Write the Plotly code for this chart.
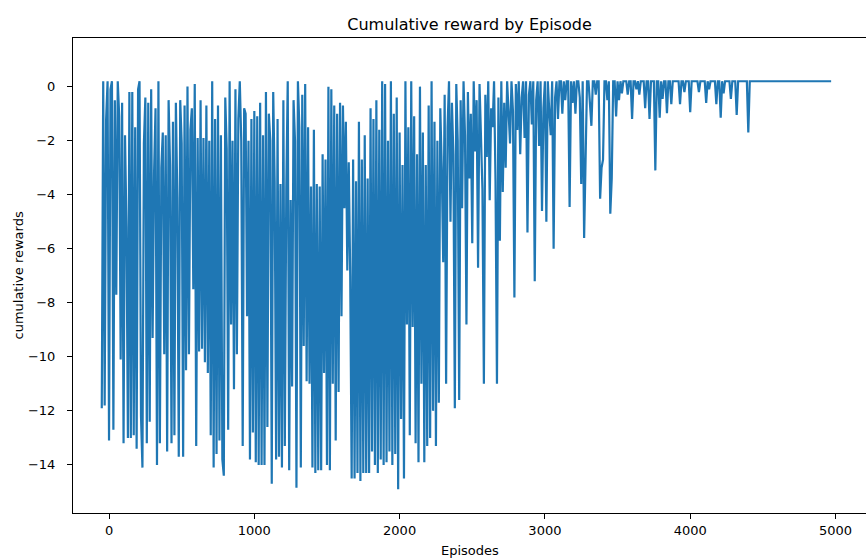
import plotly.graph_objects as go

# Episode index of the first sample and spacing between samples
first_episode = -50
episode_step = 10

rewards = [
    # -50 .. 40
    -11.9, 0.2, -11.8, -1.2, 0.2, -13.1, -0.1, 0.2, -12.7, -0.5,
    # 50 .. 140
    -7.7, 0.2, -1.1, -10.1, -0.6, -13.2, -1.8, -5.2, -13.0, -0.2,
    # 150 .. 240
    -13.0, -0.2, -12.9, -1.5, -13.4, -0.1, 0.2, -12.2, -14.1, -2.1,
    # 250 .. 340
    -0.4, -13.2, -0.6, -12.4, -0.1, -9.3, -3.2, -0.8, -14.0, 0.2,
    # 350 .. 440
    -13.2, -3.0, -1.7, -9.9, -1.8, -13.5, -0.5, -2.9, -13.2, -1.3,
    # 450 .. 540
    -12.9, -0.6, -4.1, -13.7, -0.5, -2.1, -13.7, -0.7, -10.5, 0.0,
    # 550 .. 640
    -9.9, -1.6, -0.8, -7.5, 0.1, -13.3, -1.9, -9.8, -0.5, -9.7,
    # 650 .. 740
    -1.9, -10.2, -0.7, -10.6, -2.0, -12.9, 0.2, -14.1, -1.2, -13.6,
    # 750 .. 840
    -0.7, -13.1, -1.8, -13.8, -14.4, -0.4, -2.3, -12.7, 0.2, -8.8,
    # 850 .. 940
    -2.0, -11.2, -0.1, -9.9, -1.2, 0.2, -2.0, -13.3, -0.8, -1.0,
    # 950 .. 1040
    -8.5, -2.0, -13.8, -1.2, -12.8, -0.9, -13.9, -1.1, -14.0, -0.6,
    # 1050 .. 1140
    -14.0, -1.8, -14.0, -0.2, -12.6, -1.0, -2.0, -14.7, -0.2, -3.5,
    # 1150 .. 1240
    -13.8, -1.2, -13.7, -3.6, -14.1, -0.5, -13.3, -3.8, 0.2, -14.2,
    # 1250 .. 1340
    -4.2, -11.1, -0.5, -2.0, -14.85, 0.2, -1.5, -14.1, -0.3, -9.6,
    # 1350 .. 1440
    0.1, -10.9, -1.5, -11.0, -3.7, -14.1, -1.6, -14.3, -3.6, -14.2,
    # 1450 .. 1540
    -3.7, -14.2, -2.5, -10.6, -2.7, -14.0, 0.0, -14.2, -0.1, -11.0,
    # 1550 .. 1640
    -0.7, -13.1, -1.0, -11.3, -0.6, -8.5, -0.7, -4.5, -1.3, -6.8,
    # 1650 .. 1740
    -2.8, -7.0, -14.5, -2.7, -14.5, -3.5, -14.3, -1.3, -14.6, -2.7,
    # 1750 .. 1840
    -14.3, -1.8, -14.3, -3.4, -14.3, -0.8, -13.5, -1.2, -14.0, -0.5,
    # 1850 .. 1940
    -14.3, -1.6, -13.8, 0.2, -14.0, 0.1, -13.9, -2.0, -13.5, 0.2,
    # 1950 .. 2040
    -14.0, -1.0, -13.6, -0.4, -14.9, -1.7, -12.3, -2.9, -14.5, 0.2,
    # 2050 .. 2140
    -8.8, -1.5, -12.9, 0.2, -8.9, -1.1, -13.2, -2.5, -13.9, 0.0,
    # 2150 .. 2240
    -11.0, -1.7, -13.9, -2.9, -13.3, -0.7, -13.0, 0.2, -12.0, -1.3,
    # 2250 .. 2340
    -13.3, -2.0, -11.7, -0.8, -3.0, -6.5, -0.3, -11.0, -1.5, 0.2,
    # 2350 .. 2440
    -5.0, -0.6, -2.5, -11.9, 0.1, -2.0, -11.6, -0.5, -4.5, 0.2,
    # 2450 .. 2540
    -1.8, -8.8, -0.2, -3.4, -1.0, -5.8, 0.2, -2.4, -0.5, -6.7,
    # 2550 .. 2640
    0.1, -1.9, -3.8, -11.0, -0.3, -2.6, 0.2, -4.2, -0.8, -1.5,
    # 2650 .. 2740
    0.2, -3.5, -11.0, -0.4, -5.7, 0.2, -3.9, -0.6, -3.0, 0.2,
    # 2750 .. 2840
    -1.2, -2.1, 0.2, -0.9, -7.8, 0.1, -1.6, 0.2, -2.5, -0.4,
    # 2850 .. 2940
    0.2, -1.9, 0.2, -5.4, -0.3, 0.2, -1.4, 0.2, -7.2, -0.5,
    # 2950 .. 3040
    0.2, -2.2, 0.2, -4.6, -0.8, 0.2, -5.0, 0.2, -0.9, -1.8,
    # 3050 .. 3140
    0.2, -6.0, -0.4, 0.2, -1.2, 0.2, 0.2, -1.0, 0.2, -0.5,
    # 3150 .. 3240
    0.2, 0.2, -4.45, 0.2, -0.6, 0.2, -1.0, 0.2, 0.2, -0.4,
    # 3250 .. 3340
    -3.6, 0.2, -5.6, -3.2, 0.2, 0.2, -0.7, -1.45, 0.2, 0.2,
    # 3350 .. 3440
    -0.3, 0.2, 0.2, -4.15, -3.0, -2.7, 0.2, 0.2, -0.5, 0.2,
    # 3450 .. 3540
    -4.7, -3.4, 0.2, 0.2, -1.1, 0.2, -0.5, 0.2, -0.25, 0.2,
    # 3550 .. 3640
    0.2, 0.2, -0.3, 0.2, 0.2, -1.2, 0.2, 0.2, -0.1, 0.2,
    # 3650 .. 3740
    -0.3, 0.2, 0.2, 0.2, -0.8, 0.2, 0.2, -1.2, 0.2, 0.2,
    # 3750 .. 3840
    0.2, -3.1, 0.2, 0.2, -1.15, 0.2, -0.45, 0.2, 0.2, -0.98,
    # 3850 .. 3940
    0.2, 0.2, -0.65, 0.2, 0.2, 0.2, 0.2, 0.2, -0.65, 0.2,
    # 3950 .. 4040
    0.2, -0.2, 0.2, 0.2, 0.2, -0.95, 0.2, 0.2, 0.2, 0.2,
    # 4050 .. 4140
    0.2, -0.2, 0.2, 0.2, 0.2, 0.2, -0.6, 0.2, -0.1, 0.2,
    # 4150 .. 4240
    0.2, 0.2, 0.2, -0.65, 0.2, 0.2, -1.15, 0.2, -0.25, 0.2,
    # 4250 .. 4340
    0.2, 0.2, 0.2, -0.45, 0.2, 0.2, 0.2, -1.05, 0.2, 0.2,
    # 4350 .. 4440
    0.2, 0.2, 0.2, 0.2, 0.2, -1.7, 0.2, 0.2, 0.2, 0.2,
    # 4450 .. 4540
    0.2, 0.2, 0.2, 0.2, 0.2, 0.2, 0.2, 0.2, 0.2, 0.2,
    # 4550 .. 4640
    0.2, 0.2, 0.2, 0.2, 0.2, 0.2, 0.2, 0.2, 0.2, 0.2,
    # 4650 .. 4740
    0.2, 0.2, 0.2, 0.2, 0.2, 0.2, 0.2, 0.2, 0.2, 0.2,
    # 4750 .. 4840
    0.2, 0.2, 0.2, 0.2, 0.2, 0.2, 0.2, 0.2, 0.2, 0.2,
    # 4850 .. 4940
    0.2, 0.2, 0.2, 0.2, 0.2, 0.2, 0.2, 0.2, 0.2, 0.2,
    # 4950 .. 4970
    0.2, 0.2, 0.2,
]
episodes = [first_episode + episode_step * i for i in range(len(rewards))]

x_ticks = [0, 1000, 2000, 3000, 4000, 5000]
y_ticks = [0, -2, -4, -6, -8, -10, -12, -14]

title_text = "Cumulative reward by Episode"
x_label = "Episodes"
y_label = "cumulative rewards"

W, H = 866, 558
L, R, T, B = 73, 0, 38, 45
FONT = "DejaVu Sans"

fig = go.Figure()
fig.add_trace(go.Scatter(
    x=episodes, y=rewards, mode="lines",
    line=dict(color="#1f77b4", width=2.2),
    showlegend=False, hoverinfo="skip",
))

fig.update_layout(
    width=W, height=H,
    margin=dict(l=L, r=R, t=T, b=B, pad=0),
    paper_bgcolor="white", plot_bgcolor="white",
    font=dict(family=FONT, size=13, color="#000000"),
    title=dict(text=title_text, x=0.5, xref="paper", xanchor="center",
               y=1 - 24 / H, yref="container", yanchor="middle",
               font=dict(family=FONT, size=16, color="#000000")),
    showlegend=False,
)

fig.update_xaxes(
    range=[-248, 5210], tickvals=x_ticks, ticktext=[str(v) for v in x_ticks],
    showgrid=False, zeroline=False,
    showline=True, linecolor="#000000", linewidth=1, mirror=True,
    ticks="outside", ticklen=5, tickwidth=1, tickcolor="#000000",
    tickfont=dict(family=FONT, size=13, color="#000000"),
    automargin=False,
)
fig.update_yaxes(
    range=[-15.78, 1.8], tickvals=y_ticks,
    ticktext=[("\u2212" + str(-v)) if v < 0 else str(v) for v in y_ticks],
    showgrid=False, zeroline=False,
    showline=True, linecolor="#000000", linewidth=1, mirror=False,
    ticks="outside", ticklen=5, tickwidth=1, tickcolor="#000000",
    ticklabelstandoff=9,
    tickfont=dict(family=FONT, size=13, color="#000000"),
    automargin=False,
)

fig.add_annotation(text=x_label, xref="paper", x=0.5, xanchor="center",
                   yref="paper", y=-(550 - (H - B)) / (H - T - B), yanchor="middle",
                   showarrow=False, font=dict(family=FONT, size=13, color="#000000"))
fig.add_annotation(text=y_label, xref="paper", x=-(L - 18) / (W - L - R), xanchor="center",
                   yref="paper", y=0.5, yanchor="middle", textangle=-90,
                   showarrow=False, font=dict(family=FONT, size=13, color="#000000"))

fig.write_html(
    "out.html",
    config={"displayModeBar": False, "staticPlot": True},
    post_script="document.body.style.margin='0';document.body.style.padding='0';"
                "document.body.style.overflow='hidden';",
)
